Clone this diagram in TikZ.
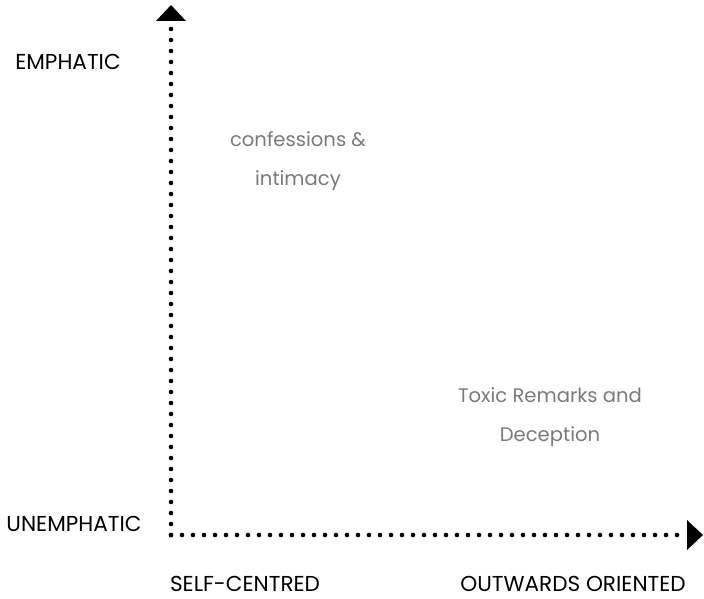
\documentclass[tikz,border=0pt]{standalone}
\usepackage{fontspec}
\setmainfont{Poppins}
\usetikzlibrary{arrows.meta, positioning}
\definecolor{quadgray}{HTML}{7A7A7A}

\begin{document}
\begin{tikzpicture}[
    x=1pt, y=-1pt,
    axis/.style={line width=4.6pt, line cap=round, dash pattern=on 0pt off 11pt, -{Triangle[length=16pt, width=29pt, line cap=butt]}},
    axlabel/.style={font=\fontsize{21.6}{26}\selectfont, text=black, inner sep=0pt},
    quadlabel/.style={font=\fontsize{19.6}{39}\selectfont, text=quadgray, align=center, inner sep=0pt}
]
    \useasboundingbox (0,0) rectangle (704,599);

    % --- Axes ---
    \coordinate (origin) at (171,535);
    \coordinate (ytip) at (171,5);
    \coordinate (xtip) at (703,535);
    \draw[axis] (origin) -- (ytip);
    \draw[axis] (origin) -- (xtip);

    % --- Axis labels ---
    \node[axlabel] (emph) at (68,62) {EMPHATIC};
    \node[axlabel] (unemph) at (74,524) {UNEMPHATIC};
    \node[axlabel] (self) at (245,584) {SELF-CENTRED};
    \node[axlabel] (outw) at (573,584) {OUTWARDS ORIENTED};

    % --- Quadrant labels ---
    \node[quadlabel] (conf) at (298,161) {confessions \&\\intimacy};
    \node[quadlabel] (toxic) at (550,417) {Toxic Remarks and\\Deception};
\end{tikzpicture}
\end{document}
